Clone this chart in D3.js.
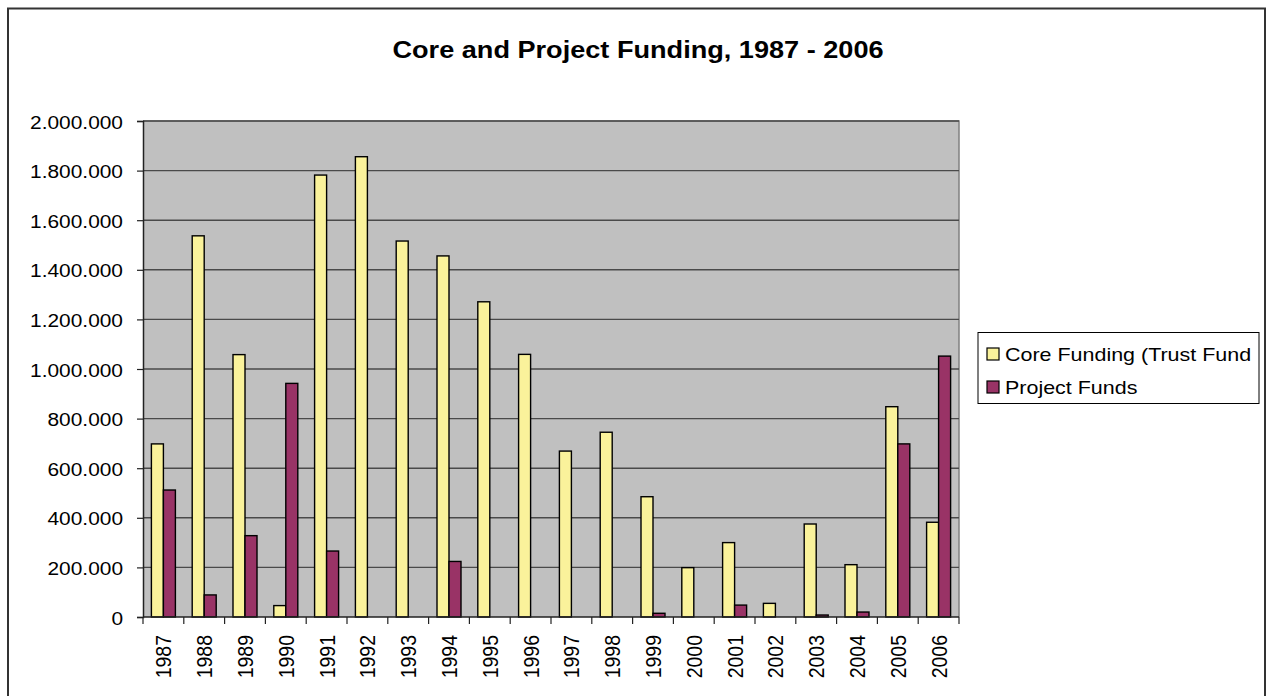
<!DOCTYPE html>
<html><head><meta charset="utf-8">
<script src="https://cdn.jsdelivr.net/npm/d3@7"></script>
<style>
html,body{margin:0;padding:0;background:#fff;}
text{font-family:"Liberation Sans",Arial,sans-serif;fill:#000;}
</style></head>
<body>
<svg id="chart" width="1270" height="696"></svg>
<script>
const years = ["1987","1988","1989","1990","1991","1992","1993","1994","1995","1996","1997","1998","1999","2000","2001","2002","2003","2004","2005","2006"];
const coreFunding = [698000,1537000,1058000,46000,1782000,1856000,1516000,1456000,1271000,1059000,669000,745000,485000,199000,300000,55000,375000,211000,848000,382000];
const projectFunds = [512000,89000,328000,942000,266000,0,0,224000,0,0,0,0,15000,0,48000,0,8000,20000,698000,1052000];
const seriesNames = ["Core Funding (Trust Fund", "Project Funds"];
const seriesColors = ["#FAF29B", "#993366"];
const yTicks = [0,200000,400000,600000,800000,1000000,1200000,1400000,1600000,1800000,2000000];
const title = "Core and Project Funding, 1987 - 2006";

const svg = d3.select("#chart");
const SX = 1.13;
const L = 143, R = 959, T = 121, B = 617;

// outer frame
svg.append("rect").attr("x",8).attr("y",8.5).attr("width",1257).attr("height",720)
  .attr("fill","none").attr("stroke","#333").attr("stroke-width",2);

// title
svg.append("text").attr("transform",`translate(638,58) scale(${SX},1)`)
  .attr("text-anchor","middle").style("font-weight","bold").style("font-size","24px").text(title);

const y = d3.scaleLinear().domain([0,2000000]).range([B,T]);
const x0 = d3.scaleBand().domain(years).range([L,R]).paddingInner(0.4118).paddingOuter(0.2059);
const keys = ["core","project"];
const x1 = d3.scaleBand().domain(keys).range([0,x0.bandwidth()]);
const color = d3.scaleOrdinal().domain(keys).range(seriesColors);

// plot background
svg.append("rect").attr("x",L).attr("y",T).attr("width",R-L).attr("height",B-T).attr("fill","#C0C0C0");
// top and right border
svg.append("path").attr("d",`M${L},${T}H${R}V${B}`).attr("fill","none").attr("stroke","#808080").attr("stroke-width",1.5);

// gridlines
svg.append("g").selectAll("line").data(yTicks.filter(d=>d>0)).join("line")
  .attr("x1",L).attr("x2",R).attr("y1",d=>y(d)).attr("y2",d=>y(d))
  .attr("stroke","#4a4a4a").attr("stroke-width",1.4);

// bars
const rows = years.map((yr,i)=>({year:yr, core:coreFunding[i], project:projectFunds[i]}));
const g = svg.append("g").selectAll("g").data(rows).join("g")
  .attr("transform",d=>`translate(${x0(d.year)},0)`);
g.selectAll("rect").data(d=>keys.map(k=>({key:k,value:d[k]})).filter(e=>e.value>0)).join("rect")
  .attr("x",d=>x1(d.key)).attr("width",x1.bandwidth())
  .attr("y",d=>y(d.value)).attr("height",d=>B-y(d.value))
  .attr("fill",d=>color(d.key)).attr("stroke","#000").attr("stroke-width",1.4);

// y axis
const yAxis = d3.axisLeft(y).tickValues(yTicks).tickSize(6).tickFormat(d=>d3.format(",")(d).replace(/,/g,"."));
const ya = svg.append("g").attr("transform",`translate(${L},0)`).call(yAxis);
ya.select(".domain").attr("stroke","#222").attr("stroke-width",1.5);
ya.selectAll(".tick line").attr("stroke","#222").attr("stroke-width",1.2);
ya.selectAll(".tick text").each(function(d){
  const t = d3.select(this);
  t.attr("x",null).attr("dy",null)
   .attr("transform",`translate(-20,${7}) scale(${SX},1)`)
   .style("font-size","18.5px").attr("fill","#000");
});

// x axis line and ticks between categories
svg.append("line").attr("x1",L).attr("x2",R).attr("y1",B).attr("y2",B).attr("stroke","#222").attr("stroke-width",1.5);
const step = x0.step();
svg.append("g").selectAll("line").data(d3.range(years.length+1)).join("line")
  .attr("x1",i=>L+i*step).attr("x2",i=>L+i*step).attr("y1",B).attr("y2",B+7)
  .attr("stroke","#222").attr("stroke-width",1.2);
svg.append("g").selectAll("text").data(years).join("text")
  .attr("transform",d=>`translate(${x0(d)+x0.bandwidth()/2},635) scale(${SX},1) rotate(-90)`)
  .attr("text-anchor","end").attr("dy","0.36em").style("font-size","19.5px").text(d=>d);

// legend
const lg = svg.append("g");
lg.append("rect").attr("x",978).attr("y",332.5).attr("width",281).attr("height",71)
  .attr("fill","#fff").attr("stroke","#000").attr("stroke-width",1);
const rowY = [354, 387];
seriesNames.forEach((name,i)=>{
  lg.append("rect").attr("x",987).attr("y",rowY[i]-6).attr("width",12).attr("height",12)
    .attr("fill",seriesColors[i]).attr("stroke","#000").attr("stroke-width",1.2);
  lg.append("text").attr("transform",`translate(1005,${rowY[i]+7}) scale(${SX},1)`)
    .style("font-size","19px").text(name);
});
</script>
</body></html>
